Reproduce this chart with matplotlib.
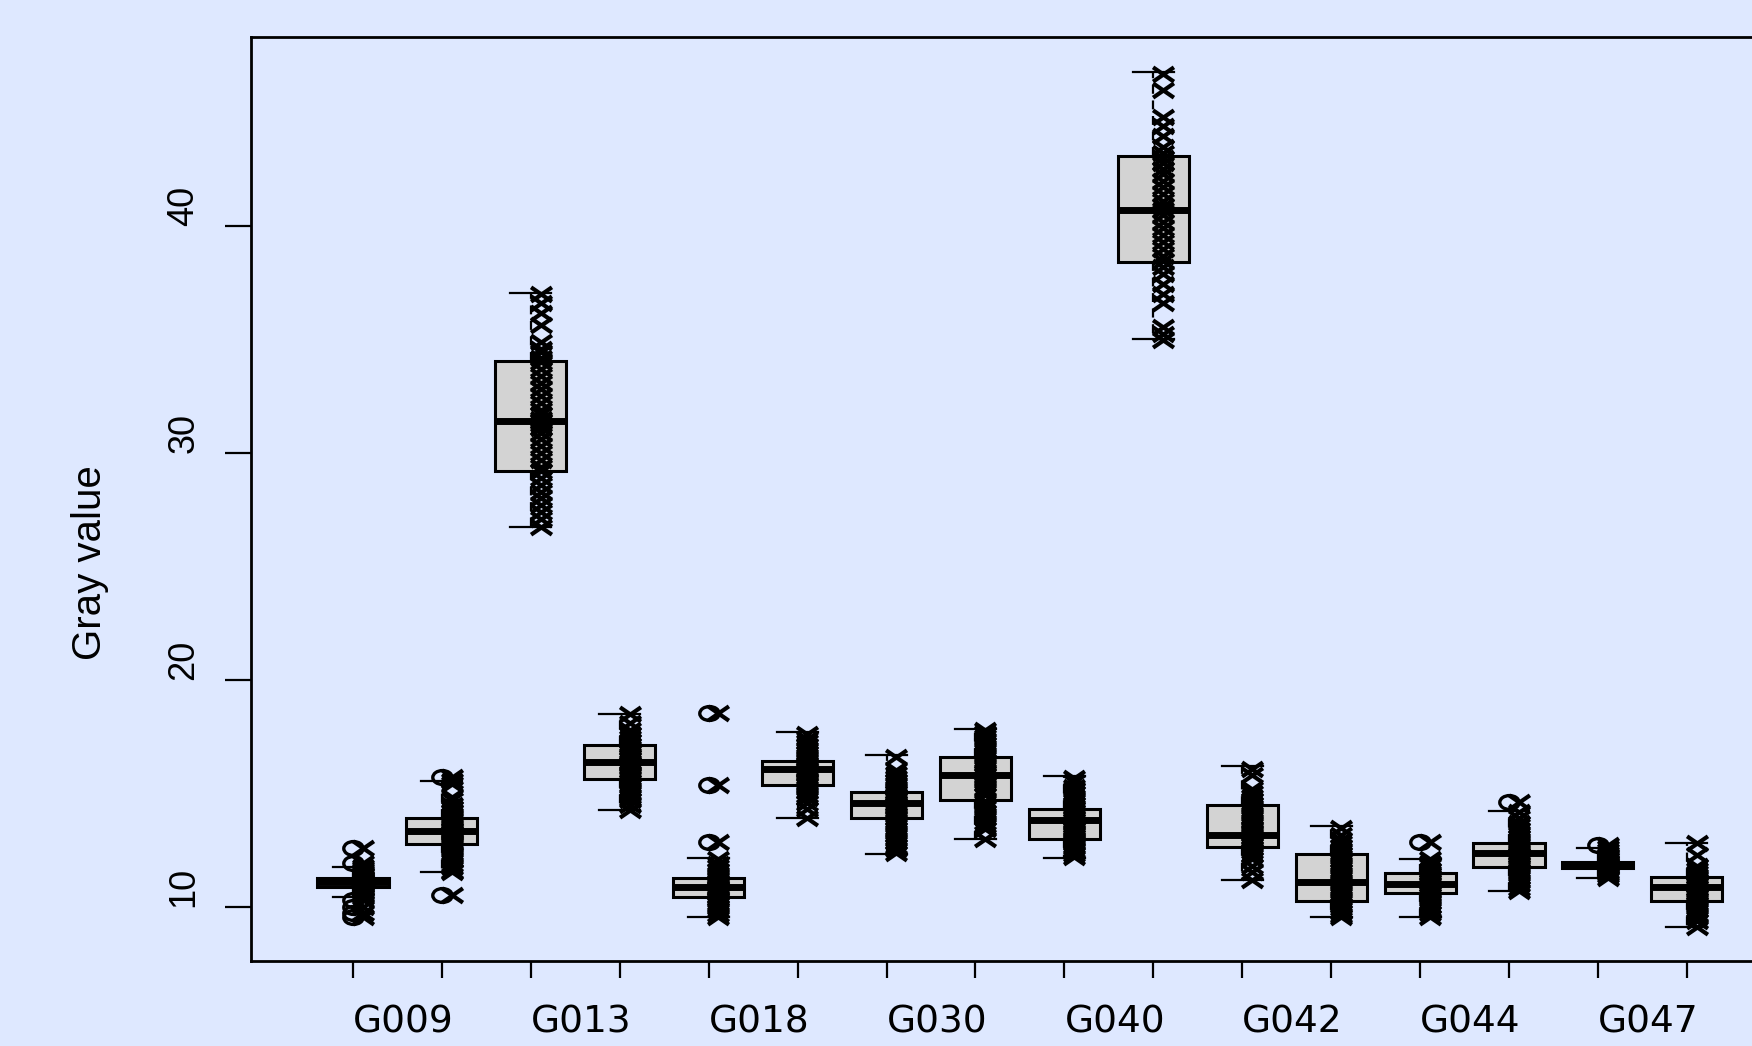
import matplotlib
matplotlib.use("Agg")
import matplotlib.pyplot as plt
from matplotlib.path import Path
from matplotlib.transforms import Affine2D
from matplotlib import font_manager

# Gruppen (nur jede zweite Beschriftung ist im Original sichtbar)
labels = ["G009", "", "G013", "", "G018", "", "G030", "",
          "G040", "", "G042", "", "G044", "", "G047", ""]

# Boxplot-Kennwerte je Gruppe
whis_lo = [10.46, 11.53, 26.74, 14.28, 9.54, 13.90, 12.35, 13.00,
           12.16, 35.02, 11.19, 9.54, 9.54, 10.70, 11.26, 9.13]
q1 = [10.90, 12.76, 29.20, 15.66, 10.46, 15.37, 13.91, 14.71,
      13.00, 38.40, 12.66, 10.28, 10.60, 11.75, 11.70, 10.28]
med = [11.12, 13.35, 31.41, 16.39, 10.87, 16.06, 14.57, 15.81,
       13.83, 40.70, 13.17, 11.12, 11.01, 12.36, 11.85, 10.87]
q3 = [11.29, 13.91, 34.07, 17.13, 11.26, 16.45, 15.05, 16.62,
      14.32, 43.08, 14.48, 12.33, 11.51, 12.83, 12.00, 11.34]
whis_hi = [11.75, 15.57, 37.06, 18.50, 12.14, 17.69, 16.70, 17.84,
           15.79, 46.77, 16.21, 13.58, 12.10, 14.24, 12.58, 12.83]
outliers = [[12.62, 11.93, 10.32, 10.02, 9.72, 9.55], [15.74, 10.53], [], [],
            [18.53, 15.37, 12.88], [], [], [], [], [], [], [], [12.88], [14.64],
            [12.73], []]

# Einzelwerte (als x eingezeichnet)
vals_01 = [12.62, 11.93, 11.75, 11.66, 11.58, 11.5, 11.42, 11.35, 11.29, 11.25, 11.2,
           11.15, 11.12, 11.08, 11.05, 11.0, 10.95, 10.9, 10.85, 10.8, 10.72, 10.65,
           10.55, 10.46, 10.32, 10.02, 9.72, 9.55]
vals_02 = [15.74, 15.57, 15.4, 14.85, 14.7, 14.5, 14.35, 14.2, 14.05, 13.91, 13.8, 13.7,
           13.6, 13.5, 13.4, 13.35, 13.28, 13.2, 13.1, 13.0, 12.9, 12.8, 12.76, 12.65,
           12.5, 12.35, 12.2, 12.05, 11.9, 11.75, 11.6, 11.53, 10.53]
vals_03 = [37.0, 36.6, 36.15, 35.65, 34.9, 34.6, 34.45, 34.2, 34.0, 33.7, 33.4, 33.1,
           32.8, 32.5, 32.2, 31.9, 31.7, 31.5, 31.4, 31.3, 31.1, 30.9, 30.6, 30.3,
           30.0, 29.7, 29.4, 29.2, 28.9, 28.6, 28.3, 28.0, 27.7, 27.4, 27.1, 26.74]
vals_04 = [18.5, 18.1, 17.8, 17.6, 17.45, 17.3, 17.13, 17.0, 16.85, 16.7, 16.6, 16.5,
           16.39, 16.3, 16.2, 16.05, 15.9, 15.8, 15.66, 15.5, 15.35, 15.2, 15.05, 14.9,
           14.7, 14.5, 14.28]
vals_05 = [18.53, 15.37, 12.88, 12.1, 11.9, 11.75, 11.6, 11.45, 11.3, 11.2, 11.1, 11.0,
           10.9, 10.85, 10.8, 10.7, 10.6, 10.5, 10.4, 10.3, 10.15, 10.0, 9.85, 9.7, 9.54]
vals_06 = [17.6, 17.4, 17.25, 17.1, 16.95, 16.8, 16.65, 16.5, 16.4, 16.3, 16.2, 16.1,
           16.05, 15.95, 15.85, 15.7, 15.6, 15.5, 15.37, 15.25, 15.1, 14.95, 14.8, 14.6,
           14.3, 13.9]
vals_07 = [16.6, 16.05, 15.85, 15.7, 15.55, 15.4, 15.25, 15.1, 15.0, 14.9, 14.8, 14.7,
           14.6, 14.5, 14.4, 14.3, 14.2, 14.05, 13.9, 13.75, 13.6, 13.45, 13.3, 13.15,
           13.0, 12.85, 12.7, 12.55, 12.4]
vals_08 = [17.8, 17.65, 17.5, 17.35, 17.2, 17.05, 16.9, 16.75, 16.6, 16.45, 16.3, 16.15,
           16.0, 15.9, 15.8, 15.7, 15.55, 15.4, 15.25, 15.1, 14.95, 14.65, 14.5, 14.35,
           14.2, 14.05, 13.9, 13.75, 13.6, 13.45, 13.0]
vals_09 = [15.7, 15.5, 15.3, 15.15, 15.0, 14.85, 14.7, 14.55, 14.4, 14.3, 14.2, 14.1,
           14.0, 13.9, 13.8, 13.7, 13.6, 13.5, 13.4, 13.3, 13.2, 13.1, 13.0, 12.9, 12.8,
           12.65, 12.5, 12.35, 12.2]
vals_10 = [46.7, 46.0, 44.8, 44.4, 43.95, 43.5, 43.2, 43.0, 42.8, 42.5, 42.3, 42.0, 41.7,
           41.4, 41.1, 40.9, 40.7, 40.5, 40.2, 39.9, 39.6, 39.3, 39.0, 38.7, 38.45, 38.2,
           37.9, 37.45, 37.0, 36.6, 35.55, 35.25, 35.0]
vals_11 = [16.1, 15.8, 15.2, 15.0, 14.85, 14.7, 14.55, 14.4, 14.25, 14.1, 13.95, 13.8,
           13.65, 13.5, 13.4, 13.3, 13.2, 13.1, 13.0, 12.9, 12.75, 12.6, 12.45, 12.3,
           12.1, 11.8, 11.55, 11.2]
vals_12 = [13.47, 13.17, 12.95, 12.8, 12.65, 12.5, 12.35, 12.2, 12.05, 11.9, 11.75, 11.6,
           11.45, 11.3, 11.15, 11.0, 10.85, 10.7, 10.55, 10.4, 10.25, 10.1, 9.95, 9.8,
           9.65, 9.54]
vals_13 = [12.88, 12.1, 11.95, 11.8, 11.65, 11.5, 11.4, 11.3, 11.2, 11.1, 11.0, 10.9,
           10.8, 10.7, 10.6, 10.5, 10.35, 10.2, 10.05, 9.9, 9.75, 9.54]
vals_14 = [14.64, 14.2, 13.9, 13.7, 13.55, 13.4, 13.25, 13.1, 12.95, 12.8, 12.7, 12.6,
           12.5, 12.4, 12.3, 12.2, 12.1, 12.0, 11.9, 11.75, 11.6, 11.45, 11.3, 11.15,
           11.0, 10.85, 10.7]
vals_15 = [12.73, 12.58, 12.45, 12.35, 12.25, 12.15, 12.05, 12.0, 11.95, 11.9, 11.85,
           11.8, 11.75, 11.7, 11.6, 11.5, 11.4, 11.26]
vals_16 = [12.8, 12.3, 11.8, 11.65, 11.5, 11.35, 11.25, 11.15, 11.05, 10.95, 10.85,
           10.75, 10.65, 10.55, 10.45, 10.3, 10.15, 10.0, 9.85, 9.7, 9.55, 9.4, 9.13]

points = [vals_01, vals_02, vals_03, vals_04, vals_05, vals_06, vals_07, vals_08,
          vals_09, vals_10, vals_11, vals_12, vals_13, vals_14, vals_15, vals_16]

bg = "#dee8ff"

# Schriften
installed = {f.name for f in font_manager.fontManager.ttflist}
if "Liberation Sans Narrow" in installed:
    ytick_font, ytick_size = "Liberation Sans Narrow", 31
else:
    ytick_font, ytick_size = "Liberation Sans", 26

# Marker im Stil von R (pch=4 und pch=1, leicht in die Breite gezogen)
x_marker = Path([(-1.45, -1), (1.45, 1), (-1.45, 1), (1.45, -1)],
                [Path.MOVETO, Path.LINETO, Path.MOVETO, Path.LINETO])
o_marker = Affine2D().scale(1.4, 1.0).transform_path(Path.unit_circle())

fig = plt.figure(figsize=(17.52, 10.46), dpi=100, facecolor=bg)
ax = fig.add_axes([251 / 1752, 85 / 1046, 1539 / 1752, 924 / 1046])
ax.set_facecolor(bg)

pos = list(range(1, len(labels) + 1))
stats = []
for i in range(len(pos)):
    stats.append(dict(whislo=whis_lo[i], q1=q1[i], med=med[i], q3=q3[i],
                      whishi=whis_hi[i], fliers=outliers[i]))

ax.bxp(stats, positions=pos, widths=0.8, capwidths=0.46, patch_artist=True,
       manage_ticks=False,
       boxprops=dict(facecolor="#d3d3d3", edgecolor="black", linewidth=2.2),
       medianprops=dict(color="black", linewidth=5, solid_capstyle="butt"),
       whiskerprops=dict(color="black", linewidth=1.6, linestyle=(0, (4, 3))),
       capprops=dict(color="black", linewidth=1.6),
       flierprops=dict(marker=o_marker, markersize=14, markerfacecolor="none",
                       markeredgecolor="black", markeredgewidth=2.4))

# Einzelwerte leicht rechts der Boxmitte
for i, vals in enumerate(points):
    ax.plot([pos[i] + 0.11] * len(vals), vals, linestyle="none", marker=x_marker,
            markersize=15, markeredgewidth=3.0, markeredgecolor="black",
            markerfacecolor="none", zorder=5)

ax.set_xlim(-0.147, 17.16)
ax.set_ylim(7.62, 48.33)

ax.set_xticks(pos, labels, ha="left", fontsize=27, family="DejaVu Sans")
ax.set_yticks([10, 20, 30, 40], ["10", "20", "30", "40"], rotation=90,
              ha="right", va="bottom", fontsize=ytick_size, family=ytick_font)
ax.tick_params(axis="x", length=12.2, width=1.6, pad=19, colors="black")
ax.tick_params(axis="y", length=18.7, width=1.6, pad=17, colors="black")

for sp in ax.spines.values():
    sp.set_linewidth(2)
    sp.set_color("black")

fig.text(90 / 1752, 1 - 563 / 1046, "Gray value", rotation=90, ha="center",
         va="center", fontsize=29, family="Liberation Sans")

fig.savefig("out.png", dpi=100, facecolor=bg)
